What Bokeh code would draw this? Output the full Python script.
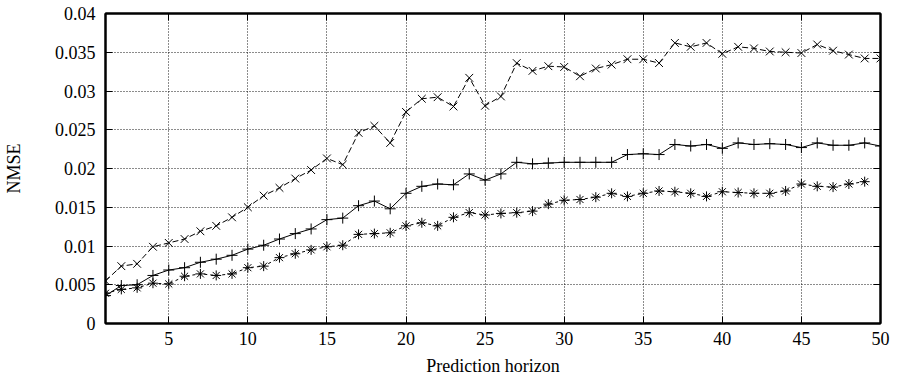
from bokeh.plotting import figure
from bokeh.models import CustomJSTickFormatter, FixedTicker, Range1d, LinearAxis
from bokeh.embed import file_html
from bokeh.resources import INLINE

horizon_a = list(range(1, 51))
series_x = [0.0055, 0.0074, 0.0077, 0.0099, 0.0104, 0.0109, 0.0119, 0.0126, 0.0137, 0.0150,
            0.0165, 0.0175, 0.0187, 0.0198, 0.0213, 0.0205, 0.0246, 0.0255, 0.0233, 0.0273,
            0.0290, 0.0292, 0.0280, 0.0317, 0.0281, 0.0293, 0.0336, 0.0326, 0.0332, 0.0331,
            0.0319, 0.0329, 0.0334, 0.0341, 0.0341, 0.0336, 0.0362, 0.0357, 0.0362, 0.0348,
            0.0357, 0.0355, 0.0351, 0.0350, 0.0349, 0.0360, 0.0352, 0.0347, 0.0342, 0.0342]
series_plus = [0.0036, 0.0049, 0.0050, 0.0062, 0.0069, 0.0072, 0.0079, 0.0083, 0.0088, 0.0096,
               0.0101, 0.0109, 0.0116, 0.0122, 0.0134, 0.0136, 0.0152, 0.0158, 0.0148, 0.0168,
               0.0177, 0.0180, 0.0179, 0.0193, 0.0185, 0.0193, 0.0208, 0.0206, 0.0207, 0.0208,
               0.0208, 0.0208, 0.0208, 0.0218, 0.0219, 0.0218, 0.0231, 0.0229, 0.0231, 0.0226,
               0.0233, 0.0231, 0.0232, 0.0231, 0.0227, 0.0233, 0.0230, 0.0230, 0.0233, 0.0229]
horizon_b = list(range(1, 50))
series_star = [0.0039, 0.0044, 0.0046, 0.0052, 0.0051, 0.0061, 0.0064, 0.0062, 0.0064, 0.0072,
               0.0074, 0.0085, 0.0090, 0.0095, 0.0099, 0.0101, 0.0115, 0.0116, 0.0117, 0.0126,
               0.0130, 0.0126, 0.0137, 0.0143, 0.0140, 0.0142, 0.0143, 0.0145, 0.0154, 0.0159,
               0.0160, 0.0163, 0.0168, 0.0164, 0.0168, 0.0171, 0.0170, 0.0168, 0.0164, 0.0170,
               0.0169, 0.0168, 0.0168, 0.0171, 0.0180, 0.0177, 0.0176, 0.0180, 0.0183]
x_ticks = [5, 10, 15, 20, 25, 30, 35, 40, 45, 50]
y_ticks = [0, 0.005, 0.01, 0.015, 0.02, 0.025, 0.03, 0.035, 0.04]

FONT = "Liberation Serif"

p = figure(width=899, height=379, output_backend="svg", toolbar_location=None,
           x_range=Range1d(1, 50), y_range=Range1d(0, 0.04))
p.min_border_left = 101
p.min_border_right = 19
p.min_border_top = 13
p.min_border_bottom = 56
p.background_fill_color = "white"
p.border_fill_color = "white"
p.outline_line_color = "black"
p.outline_line_width = 2

p.line(horizon_a, series_x, line_color="black", line_width=1, line_dash="6 3")
p.scatter(horizon_a, series_x, marker="x", size=11, line_color="black", line_width=1)
p.line(horizon_a, series_plus, line_color="black", line_width=1)
p.scatter(horizon_a, series_plus, marker="cross", size=11, line_color="black", line_width=1)
p.line(horizon_b, series_star, line_color="black", line_width=1, line_dash="3 3")
p.scatter(horizon_b, series_star, marker="asterisk", size=10, line_color="black", line_width=1)

p.xaxis.ticker = FixedTicker(ticks=x_ticks)
p.yaxis.ticker = FixedTicker(ticks=y_ticks)
p.yaxis.formatter = CustomJSTickFormatter(code="""
    if (Math.abs(tick) < 1e-12) { return "0"; }
    return parseFloat(tick.toFixed(3)).toString();
""")

# mirrored inward ticks on top and right, as in the reference frame
p.add_layout(LinearAxis(ticker=FixedTicker(ticks=y_ticks)), "right")
p.add_layout(LinearAxis(ticker=FixedTicker(ticks=x_ticks)), "above")

for ax in p.xaxis + p.yaxis:
    ax.axis_line_color = "black"
    ax.axis_line_width = 2
    ax.major_tick_in = 7
    ax.major_tick_out = 0
    ax.major_tick_line_color = "black"
    ax.minor_tick_line_color = None
    ax.major_label_text_font = FONT
    ax.major_label_text_font_size = "18px"
    ax.major_label_text_color = "black"
    ax.axis_label_text_font = FONT
    ax.axis_label_text_font_size = "18px"
    ax.axis_label_text_font_style = "normal"
    ax.axis_label_text_color = "black"

for ax in (p.right[0], p.above[0]):
    ax.major_label_text_font_size = "0px"
    ax.major_label_text_alpha = 0
    ax.major_label_standoff = 0

bottom = p.below[0]
left = p.left[0]
bottom.axis_label = "Prediction horizon"
left.axis_label = "NMSE"
bottom.major_label_standoff = 8
bottom.axis_label_standoff = 8
left.major_label_standoff = 10
left.axis_label_standoff = 28

p.grid.grid_line_color = "black"
p.grid.grid_line_dash = "1 2"
p.grid.grid_line_width = 1
p.grid.grid_line_alpha = 0.9

open("out.html", "w").write(file_html(p, INLINE))
